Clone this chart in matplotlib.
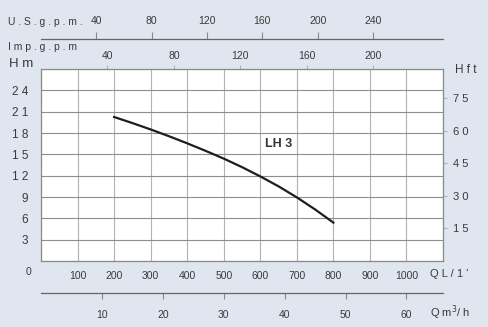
import matplotlib
matplotlib.use("Agg")
import matplotlib.pyplot as plt
import numpy as np

BG = "#dfe6ef"; INK = "#3a3a3a"; VGRID = "#b2b2b2"; HGRID = "#8e8e8e"; FRAME = "#8a8a8a"
plt.rcParams.update({"font.family": ["Liberation Sans", "DejaVu Sans"], "text.color": INK,
                     "xtick.color": INK, "ytick.color": INK})

# pump curve LH 3: flow (L/min) vs head (m)
flow_lmin = [200, 250, 300, 350, 400, 450, 500, 550, 600, 650, 700, 750, 800]
head_m = [20.25, 19.4, 18.5, 17.55, 16.55, 15.5, 14.4, 13.2, 11.9, 10.5, 8.95, 7.25, 5.4]
curve_name = "LH 3"

x_ticks = [100, 200, 300, 400, 500, 600, 700, 800, 900, 1000]
y_ticks = [3, 6, 9, 12, 15, 18, 21, 24]
ft_ticks = [15, 30, 45, 60, 75]
imp_ticks = [40, 80, 120, 160, 200]
us_ticks = [40, 80, 120, 160, 200, 240]
m3h_ticks = [10, 20, 30, 40, 50, 60]

IMP = 4.546; USG = 3.785; M3H = 1000 / 60; FT = 3.2808

def sp(v):
    return " ".join(str(v))

W, H = 489, 327
fig = plt.figure(figsize=(W / 100, H / 100), dpi=100, facecolor=BG)
l, r, t, b = 41, 443, 69, 261
ax = fig.add_axes([l / W, 1 - b / H, (r - l) / W, (b - t) / H])
ax.set_facecolor("white")
ax.set_xlim(0, 1100); ax.set_ylim(0, 27)
ax.set_xticks(np.arange(0, 1101, 100), minor=True)
ax.set_xticks(x_ticks)
ax.set_xticklabels([str(v) for v in x_ticks], fontsize=7.5)
ax.set_yticks(np.arange(0, 28, 3), minor=True)
ax.set_yticks(y_ticks)
ax.set_yticklabels([sp(v) for v in y_ticks], fontsize=8.5)
ax.tick_params(which="both", length=0)
ax.tick_params(axis="x", pad=7)
ax.tick_params(axis="y", pad=9)
ax.grid(axis="x", which="both", color=VGRID, lw=0.8)
ax.grid(axis="y", which="both", color=HGRID, lw=0.8)
for s in ax.spines.values():
    s.set_color(FRAME); s.set_linewidth(0.9)

ax.plot(flow_lmin, head_m, color="#1e1e1e", lw=1.6, solid_joinstyle="round", zorder=3)
ax.text(650, 16.4, curve_name, fontsize=9, fontweight="bold", color="#333333",
        ha="center", va="center")

# right: head in feet
ry = ax.secondary_yaxis("right", functions=(lambda m: m * FT, lambda f: f / FT))
ry.set_yticks(ft_ticks)
ry.set_yticklabels([sp(v) for v in ft_ticks], fontsize=8)
ry.tick_params(length=3, width=0.8, color=VGRID, pad=4)
ry.spines["right"].set_visible(False)

# top: Imp gpm
ti = ax.secondary_xaxis("top", functions=(lambda q: q / IMP, lambda g: g * IMP))
ti.set_xticks(imp_ticks)
ti.set_xticklabels([str(v) for v in imp_ticks], fontsize=7.5)
ti.tick_params(length=3, width=0.8, color=VGRID, pad=3)
ti.spines["top"].set_visible(False)

# US gpm line above
tu = ax.secondary_xaxis((b - 39) / (b - t), functions=(lambda q: q / USG, lambda g: g * USG))
tu.set_xticks(us_ticks)
tu.set_xticklabels([str(v) for v in us_ticks], fontsize=7.5)
tu.tick_params(direction="out", length=5, width=0.8, color="#888888", pad=4)
tu.spines["top"].set_color("#666666"); tu.spines["top"].set_linewidth(0.9)

# m3/h line below
bm = ax.secondary_xaxis(-(293 - b) / (b - t), functions=(lambda q: q / M3H, lambda v: v * M3H))
bm.set_xticks(m3h_ticks)
bm.set_xticklabels([str(v) for v in m3h_ticks], fontsize=7.5)
bm.tick_params(direction="out", length=4, width=0.8, color="#888888", pad=8)
bm.spines["bottom"].set_color("#666666"); bm.spines["bottom"].set_linewidth(0.9)

def px(x, y, s, **kw):
    fig.text(x / W, 1 - y / H, s, va="center", **kw)

px(8, 22, "U . S . g . p . m .", fontsize=7.5)
px(8, 47, "I m p . g . p . m", fontsize=7.5)
px(9, 64, "H m", fontsize=9.5)
px(455, 70, "H f t", fontsize=8.5)
px(29, 272, "0", fontsize=7.5, ha="center")
px(430, 274, "Q L / 1 '", fontsize=8)
px(430, 313, "Q m$^3$/ h", fontsize=8)

fig.savefig("out.png", dpi=100, facecolor=BG)
